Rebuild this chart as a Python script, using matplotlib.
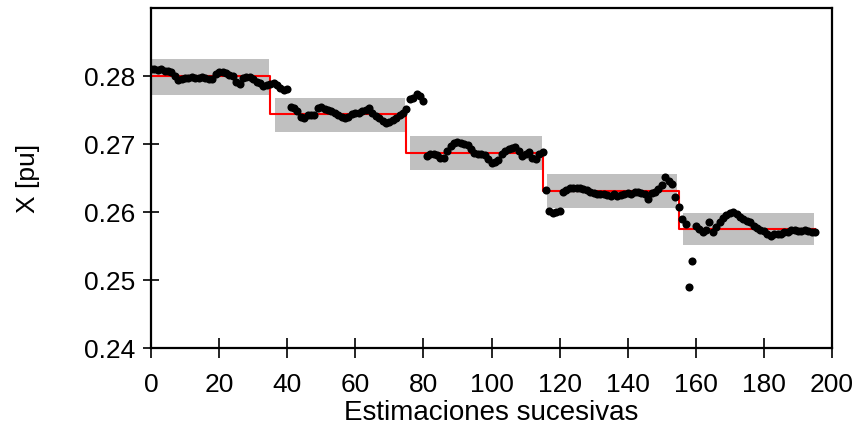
import matplotlib
matplotlib.use("Agg")
import matplotlib.pyplot as plt
from matplotlib.patches import Rectangle
import numpy as np

plt.rcParams['font.family'] = ['Liberation Sans', 'DejaVu Sans']

# Successive estimates (x = 0..195)
estimates = [
    0.2810, 0.2810, 0.2809, 0.2810, 0.2808, 0.2808, 0.2806, 0.2800, 0.2794, 0.2795,
    0.2797, 0.2797, 0.2798, 0.2797, 0.2797, 0.2798, 0.2797, 0.2795, 0.2796, 0.2803,
    0.2806, 0.2806, 0.2804, 0.2801, 0.2800, 0.2791, 0.2789, 0.2797, 0.2798, 0.2798,
    0.2795, 0.2791, 0.2790, 0.2786, 0.2787, 0.2788, 0.2790, 0.2787, 0.2782, 0.2780,
    0.2781, 0.2755, 0.2753, 0.2749, 0.2740, 0.2738, 0.2742, 0.2742, 0.2743, 0.2753,
    0.2755, 0.2752, 0.2750, 0.2749, 0.2746, 0.2742, 0.2740, 0.2738, 0.2740, 0.2744,
    0.2745, 0.2746, 0.2748, 0.2750, 0.2753, 0.2746, 0.2741, 0.2739, 0.2734, 0.2731,
    0.2733, 0.2736, 0.2738, 0.2742, 0.2746, 0.2751, 0.2766, 0.2768, 0.2773, 0.2770,
    0.2764, 0.2683, 0.2685, 0.2686, 0.2684, 0.2680, 0.2679, 0.2690, 0.2697, 0.2701,
    0.2703, 0.2702, 0.2700, 0.2698, 0.2693, 0.2687, 0.2686, 0.2685, 0.2684, 0.2678,
    0.2672, 0.2674, 0.2676, 0.2686, 0.2690, 0.2692, 0.2694, 0.2696, 0.2690, 0.2683,
    0.2686, 0.2688, 0.2680, 0.2678, 0.2685, 0.2689, 0.2632, 0.2601, 0.2599, 0.2600,
    0.2602, 0.2629, 0.2633, 0.2635, 0.2636, 0.2635, 0.2636, 0.2634, 0.2632, 0.2629,
    0.2628, 0.2627, 0.2627, 0.2626, 0.2625, 0.2624, 0.2626, 0.2624, 0.2625, 0.2627,
    0.2628, 0.2627, 0.2629, 0.2629, 0.2628, 0.2627, 0.2619, 0.2628, 0.2630, 0.2634,
    0.2640, 0.2652, 0.2645, 0.2641, 0.2622, 0.2607, 0.2590, 0.2583, 0.2490, 0.2528,
    0.2579, 0.2575, 0.2570, 0.2574, 0.2585, 0.2570, 0.2578, 0.2585, 0.2591, 0.2596,
    0.2599, 0.2600, 0.2597, 0.2593, 0.2590, 0.2587, 0.2585, 0.2579, 0.2576, 0.2574,
    0.2572, 0.2568, 0.2565, 0.2567, 0.2568, 0.2567, 0.2570, 0.2571, 0.2573, 0.2573,
    0.2572, 0.2572, 0.2573, 0.2572, 0.2571, 0.2571,
]

# Reference (true) value per interval: step boundaries and levels
step_edges = [0, 35, 75, 115, 155, 195]
step_levels = [0.2800, 0.27435, 0.26867, 0.26311, 0.25748]

# Tolerance bands (gray boxes)
band_x0 = [0.3, 36.4, 76.2, 116.3, 156.2]
band_x1 = [34.7, 74.6, 114.7, 154.6, 194.6]
band_lo = [0.2772, 0.2717, 0.2662, 0.26061, 0.25509]
band_hi = [0.2825, 0.2768, 0.2712, 0.26560, 0.25993]

xticks = [0, 20, 40, 60, 80, 100, 120, 140, 160, 180, 200]
yticks = [0.24, 0.25, 0.26, 0.27, 0.28]

fig = plt.figure(figsize=(8.58, 4.32), dpi=100)
ax = fig.add_axes([0.176, 0.1944, 0.7937, 0.787])

for x0, x1, lo, hi in zip(band_x0, band_x1, band_lo, band_hi):
    ax.add_patch(Rectangle((x0, lo), x1 - x0, hi - lo, facecolor='#C0C0C0',
                           edgecolor='none', zorder=1))

sx = []
sy = []
for i, lev in enumerate(step_levels):
    sx += [step_edges[i], step_edges[i + 1]]
    sy += [lev, lev]
ax.plot(sx, sy, color='red', lw=1.5, zorder=2)

xs = np.arange(len(estimates))
ax.scatter(xs, estimates, s=34, color='black', zorder=3, linewidths=0)

ax.set_xlim(0, 200)
ax.set_ylim(0.24, 0.29)
ax.set_xticks(xticks)
ax.set_yticks(yticks)
ax.set_yticklabels(['0.24', '0.25', '0.26', '0.27', '0.28'])
ax.tick_params(axis='both', direction='inout', labelsize=19, width=1.2, color='black')
ax.tick_params(axis='y', length=12, pad=5)
ax.tick_params(axis='x', length=14, pad=11)
for sp in ax.spines.values():
    sp.set_linewidth(1.6)
    sp.set_color('black')

ax.set_xlabel('Estimaciones sucesivas', fontsize=20, labelpad=2)
ax.set_ylabel('X [pu]', fontsize=19, labelpad=32)

fig.savefig('out.png', dpi=100)
